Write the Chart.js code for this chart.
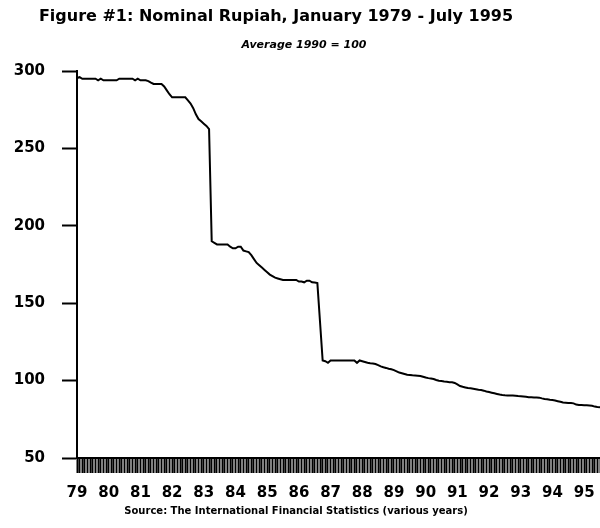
<!DOCTYPE html>
<html lang="en">
<head>
<meta charset="UTF-8" />
<title>Figure #1: Nominal Rupiah</title>
<script src="https://cdn.jsdelivr.net/npm/chart.js"></script>
<style>
  html, body { margin: 0; padding: 0; background: #fff; }
  #wrap { width: 600px; height: 528px; position: relative; }
</style>
</head>
<body>
<div id="wrap"><canvas id="rupiahChart"></canvas></div>
<script>
// categories: one entry per month, Jan 1979 - Jul 1995
const years = [1979, 1980, 1981, 1982, 1983, 1984, 1985, 1986, 1987, 1988, 1989, 1990, 1991, 1992, 1993, 1994, 1995];
const monthNames = ['Jan','Feb','Mar','Apr','May','Jun','Jul','Aug','Sep','Oct','Nov','Dec'];
const yearTickLabels = ['79','80','81','82','83','84','85','86','87','88','89','90','91','92','93','94','95'];
const yTicks = [50, 100, 150, 200, 250, 300];

// nominal rupiah index (average 1990 = 100), a row per year
const rupiahIndex = [
  295.5, 296, 295, 295, 295, 295, 295, 295, 294, 295, 294, 294,
  294, 294, 294, 294, 295, 295, 295, 295, 295, 295, 294, 295,
  294, 294, 294, 293.5, 292.5, 291.6, 291.6, 291.6, 291.6, 290, 287.5, 285,
  283, 283, 283, 283, 283, 283, 281, 279, 276, 272, 269, 267.5,
  266, 264.5, 262.5, 190, 189, 188, 188, 188, 188, 188, 186.5, 185.5,
  185.5, 186.5, 186.5, 184, 183.5, 183, 181, 178.5, 176, 174.5, 173, 171.5,
  170, 168.5, 167.5, 166.5, 166, 165.5, 165, 165, 165, 165, 165, 165,
  164, 164, 163.5, 164.5, 164.5, 163.5, 163.3, 163, 138, 113, 112.5, 111.5,
  113, 113, 113, 113, 113, 113, 113, 113, 113, 113, 111.5, 113,
  112.5, 112, 111.5, 111.2, 111, 110.7, 110, 109.2, 108.6, 108.2, 107.7, 107.3,
  106.8, 106, 105.2, 104.8, 104.3, 103.8, 103.6, 103.4, 103.3, 103.2, 103, 102.5,
  102, 101.6, 101.4, 101, 100.4, 99.9, 99.7, 99.4, 99.2, 99, 98.9, 98.5,
  97.5, 96.5, 96, 95.6, 95.2, 95, 94.7, 94.4, 94.1, 93.9, 93.5, 93,
  92.6, 92.2, 91.8, 91.4, 91, 90.7, 90.5, 90.4, 90.3, 90.3, 90.2, 90,
  89.9, 89.7, 89.5, 89.3, 89.2, 89.1, 89.1, 89, 88.5, 88.1, 87.9, 87.6,
  87.4, 87.1, 86.7, 86.3, 85.8, 85.7, 85.6, 85.5, 85.3, 84.5, 84.2, 84.2,
  84.1, 84, 83.9, 83.7, 83.2, 82.9, 82.7
];

const titleText = 'Figure #1: Nominal Rupiah, January 1979 - July 1995';
const subtitleText = 'Average 1990 = 100';
const sourceText = 'Source: The International Financial Statistics (various years)';

const monthLabels = [];
years.forEach(y => monthNames.forEach(m => monthLabels.push(m + ' ' + y)));
monthLabels.length = rupiahIndex.length; // series stops at July 1995

const tickFont = { family: 'DejaVu Sans', weight: 'bold', size: 15 };

// title, subtitle and source note drawn at their spots in the figure
const figureText = {
  id: 'figureText',
  afterDraw(chart) {
    const ctx = chart.ctx;
    ctx.save();
    ctx.fillStyle = '#000';
    ctx.textAlign = 'center';
    ctx.textBaseline = 'middle';
    ctx.font = 'bold 16px "DejaVu Sans"';
    ctx.fillText(titleText, 276, 17);
    ctx.font = 'italic bold 11px "DejaVu Sans"';
    ctx.fillText(subtitleText, 304, 45);
    ctx.font = 'bold 10px "DejaVu Sans"';
    ctx.fillText(sourceText, 296, 511);
    ctx.restore();
  }
};

new Chart(document.getElementById('rupiahChart'), {
  type: 'line',
  data: {
    labels: monthLabels,
    datasets: [{
      data: rupiahIndex,
      borderColor: '#000',
      borderWidth: 2,
      pointRadius: 0,
      tension: 0,
      fill: false
    }]
  },
  options: {
    responsive: true,
    maintainAspectRatio: false,
    animation: false,
    layout: { padding: { top: 71, right: 0, bottom: 0, left: 0 } },
    plugins: { legend: { display: false }, tooltip: { enabled: false } },
    scales: {
      x: {
        type: 'category',
        offset: false,
        grid: { display: true, drawOnChartArea: false, drawTicks: true, tickLength: 15, tickWidth: 2, tickColor: '#000' },
        border: { display: true, color: '#000', width: 2 },
        ticks: {
          autoSkip: false,
          maxRotation: 0,
          minRotation: 0,
          padding: 11,
          color: '#000',
          font: tickFont,
          callback: (v, i) => (i % 12 === 0 ? yearTickLabels[i / 12] : '')
        },
        afterFit: s => { s.height = 70; s.paddingLeft = 0; s.paddingRight = 0; }
      },
      y: {
        min: 50,
        max: 300,
        afterBuildTicks: s => { s.ticks = yTicks.map(v => ({ value: v })); },
        grid: { display: true, drawOnChartArea: false, drawTicks: true, tickLength: 15, tickWidth: 2, tickColor: '#000' },
        border: { display: true, color: '#000', width: 2 },
        ticks: { padding: 17, color: '#000', font: tickFont },
        afterFit: s => { s.width = 77; }
      }
    }
  },
  plugins: [figureText]
});
</script>
</body>
</html>
